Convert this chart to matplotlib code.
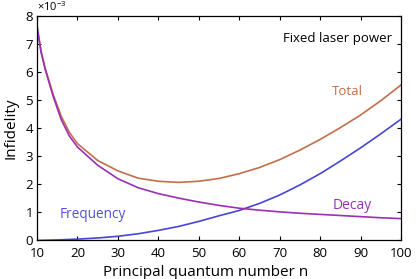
import matplotlib
matplotlib.use("Agg")
import matplotlib.pyplot as plt

plt.rcParams['font.family'] = ['Open Sans', 'DejaVu Sans']
plt.rcParams['mathtext.fontset'] = 'custom'
plt.rcParams['mathtext.rm'] = 'Open Sans'

# values (units of 1e-3)
n_decay = [10, 11, 12, 14, 16, 18, 20, 25, 30, 35, 40, 45, 50, 55, 60, 65, 70, 75, 80, 85, 90, 95, 100]
decay = [7.62, 6.7, 6.1, 5.13, 4.3, 3.72, 3.33, 2.68, 2.2, 1.88, 1.67, 1.51, 1.37, 1.25, 1.15, 1.08, 1.02, 0.97, 0.93, 0.89, 0.85, 0.81, 0.78]

n_freq = [10, 15, 20, 25, 30, 35, 40, 45, 50, 55, 60, 65, 70, 75, 80, 85, 90, 95, 100]
freq = [0.0, 0.02, 0.05, 0.09, 0.15, 0.24, 0.36, 0.5, 0.68, 0.88, 1.07, 1.32, 1.62, 1.98, 2.38, 2.83, 3.3, 3.8, 4.32]

n_total = [10, 11, 12, 14, 16, 18, 20, 25, 30, 35, 40, 45, 50, 55, 60, 65, 70, 75, 80, 85, 90, 95, 100]
total = [7.65, 6.75, 6.15, 5.2, 4.42, 3.85, 3.45, 2.85, 2.48, 2.22, 2.11, 2.07, 2.11, 2.21, 2.38, 2.6, 2.88, 3.22, 3.6, 4.02, 4.47, 4.98, 5.54]

x_ticks = [10, 20, 30, 40, 50, 60, 70, 80, 90, 100]
y_ticks = [0, 1, 2, 3, 4, 5, 6, 7, 8]

c_total = '#c46e48'
c_decay = '#9a30b4'
c_freq = '#4646d2'

fig = plt.figure(figsize=(4.16, 2.79), dpi=100)
ax = fig.add_axes([0.089, 0.138, 0.875, 0.805])

ax.plot(n_total, total, color=c_total, lw=1.2)
ax.plot(n_freq, freq, color=c_freq, lw=1.2)
ax.plot(n_decay, decay, color=c_decay, lw=1.2)

ax.set_xlim(10, 100)
ax.set_ylim(0, 8)
ax.set_xticks(x_ticks)
ax.set_yticks(y_ticks)
ax.tick_params(direction='in', top=True, right=True, length=3, labelsize=9.5)
ax.tick_params(axis='x', pad=5)
ax.tick_params(axis='y', pad=3)
for s in ax.spines.values():
    s.set_linewidth(0.9)

ax.set_xlabel('Principal quantum number n', fontsize=11)
ax.xaxis.set_label_coords(0.462, -0.11)
ax.xaxis.label.set_va('top')
ax.set_ylabel('Infidelity', fontsize=11, labelpad=5)
ax.text(0.0, 1.008, r'$\times$10$^{-3}$', transform=ax.transAxes, fontsize=8, va='bottom')

ax.text(0.677, 0.9, 'Fixed laser power', transform=ax.transAxes, fontsize=9.5, va='center')
ax.text(83, 5.3, 'Total', color=c_total, fontsize=9.5, va='center')
ax.text(83, 1.25, 'Decay', color=c_decay, fontsize=10, va='center')
ax.text(15.7, 0.92, 'Frequency', color='#5050dc', fontsize=9.8, va='center')

fig.savefig('out.png', dpi=100)
